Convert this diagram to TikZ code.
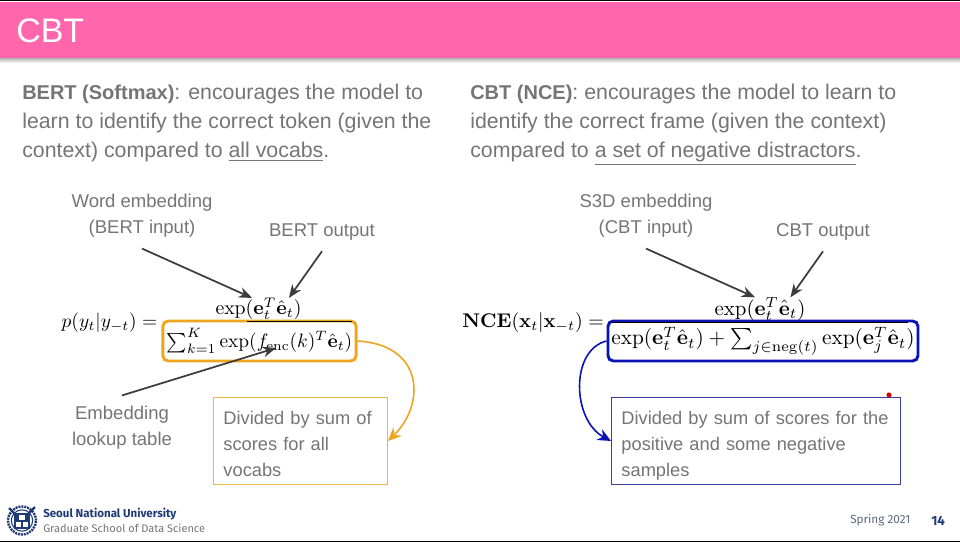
\documentclass[tikz,border=0pt]{standalone}
\usepackage[no-math]{fontspec}
\setmainfont{Liberation Sans}
\newfontfamily\footfont{Fira Sans}
\usetikzlibrary{arrows.meta}
\definecolor{headpink}{HTML}{FF66AC}
\definecolor{bodygray}{HTML}{757575}
\definecolor{arrowgray}{HTML}{3C3C3C}
\definecolor{softorange}{HTML}{EFA51E}
\definecolor{softblue}{HTML}{0A14B4}
\definecolor{snublue}{HTML}{1F3A75}
\definecolor{slategray}{HTML}{5C6B7E}
\newcommand{\formula}[2][1.47]{\scalebox{#1}{$#2$}}
\newcommand{\notegap}{\rule{0pt}{17.5pt}}
\newcommand{\notedrop}{\rule[-3.5pt]{0pt}{3.5pt}}
\newcommand{\leadin}[1]{{\fontsize{15}{21.75}\selectfont\bfseries #1}}
\tikzset{
    bodytext/.style={anchor=north west, align=left, inner sep=0pt, text=bodygray,
        font=\fontsize{16}{21.75}\selectfont},
    tagtext/.style={align=center, inner xsep=0pt, inner ysep=8pt, text=bodygray,
        font=\fontsize{13.9}{19.5}\selectfont},
    notebox/.style={draw, anchor=north west, align=left, inner xsep=7.5pt, inner ysep=0pt,
        text=bodygray, line width=0.7pt, minimum height=65.25pt,
        font=\fontsize{13.7}{19.5}\selectfont},
    denombox/.style={draw, line width=2.2pt, rounded corners=4pt, inner sep=0pt,
        minimum height=30pt},
    pointer/.style={-{Stealth[length=10pt,width=8pt]}, color=arrowgray, line width=1.3pt},
    bender/.style={-{Stealth[length=10pt,width=9pt]}, line width=1.2pt},
}
\begin{document}
\begin{tikzpicture}[x=0.75pt,y=-0.75pt]
\useasboundingbox (0,0) rectangle (960,542);
\fill[white] (0,0) rectangle (960,542);

% slide frame
\fill[top color=black!30, bottom color=white] (0,58) rectangle (960,63);
\fill[headpink] (0,2) rectangle (960,58);
\fill[black] (0,0) rectangle (960,1.5);
\fill[black] (0,540.5) rectangle (960,542);
\node[anchor=west, text=white, inner sep=0pt, font=\fontsize{25.5}{30}\selectfont] (title) at (16,31) {CBT};

% left column
\node[bodytext] (leftbody) at (22,84) {\leadin{BERT (Softmax)}: encourages the model to\\
    learn to identify the correct token (given the\\
    context) compared to \underline{all vocabs}.};
\node[tagtext] (wordtag) at (142,216) {Word embedding\\(BERT input)};
\node[tagtext] (outtag) at (322,232) {BERT output};
\node[tagtext] (looktag) at (122,428) {Embedding\\lookup table};
\node[inner sep=0pt] (lhsleft) at (109.5,323) {\formula[1.455]{p(y_t|y_{-t}) =}};
\node[inner sep=0pt] (numleft) at (258.5,309) {\formula[1.485]{\exp(\mathbf{e}_t^T\hat{\mathbf{e}}_t)}};
\node[denombox, draw=softorange, minimum width=145pt] (denomleft) at (259.5,341) {\formula[1.455]{\sum_{k=1}^{K}\exp(f_{\mathrm{enc}}(k)^T\hat{\mathbf{e}}_t)}};
\draw[black, line width=0.5pt] (247,321) -- (352,321);
\node[notebox, draw=softorange!80, text width=115.5pt, minimum width=130.5pt] (noteleft) at (213,397) {\notegap Divided by sum of\\scores for all\\vocabs\notedrop};
\coordinate (fenc) at (276,348);
\draw[pointer] (wordtag.south) -- (numleft.120);
\draw[pointer] (outtag.south) -- (numleft.20);
\draw[pointer] (looktag.north) -- (fenc);
\draw[bender, color=softorange] (denomleft.east) .. controls (425,345) and (425,405) .. (noteleft.east);

% right column
\node[bodytext] (rightbody) at (470,84) {\leadin{CBT (NCE)}: encourages the model to learn to\\
    identify the correct frame (given the context)\\
    compared to \underline{a set of negative distractors}.};
\node[tagtext] (s3dtag) at (646,216) {S3D embedding\\(CBT input)};
\node[tagtext] (cbttag) at (823,232) {CBT output};
\node[inner sep=0pt] (lhsright) at (533,323) {\formula[1.485]{\mathbf{NCE}(\mathbf{x}_t|\mathbf{x}_{-t}) =}};
\node[inner sep=0pt] (numright) at (760,309) {\formula[1.57]{\exp(\mathbf{e}_t^T\hat{\mathbf{e}}_t)}};
\node[denombox, draw=softblue, minimum width=232.5pt] (denomright) at (763,341) {\formula[1.6]{\exp(\mathbf{e}_t^T\hat{\mathbf{e}}_t)+\sum_{j\in\mathrm{neg}(t)}\exp(\mathbf{e}_j^T\hat{\mathbf{e}}_t)}};
\draw[black, line width=0.4pt] (612,322) -- (908,322);
\node[notebox, draw=softblue!60!gray, text width=201.75pt, minimum width=216.75pt] (noteright) at (611,397) {\notegap Divided by sum of scores for the\\positive and some negative\\samples\notedrop};
\draw[pointer] (s3dtag.south) -- (numright.113);
\draw[pointer] (cbttag.south) -- (numright.21);
\draw[bender, color=softblue] (denomright.west) .. controls (570,350) and (572,420) .. (noteright.west);
\node[circle, fill=red!85!black, inner sep=0pt, minimum size=3.8pt] (dot) at (889,395) {};

% footer
\node[circle, draw=snublue, line width=1.8pt, dash pattern=on 1.5pt off 0.7pt, minimum size=21pt, inner sep=0pt] (logo) at (22,520.5) {};
\node[circle, draw=snublue, line width=0.8pt, minimum size=16pt, inner sep=0pt] (logoin) at (22,520.5) {};
\draw[snublue, line width=1.6pt] (9,508) -- (17,516);
\draw[snublue, line width=1.6pt] (35,507) -- (27,515);
\fill[snublue] (14,513) rectangle (30,529);
\fill[white] (16,522) rectangle (21,527);
\fill[white] (23,522) rectangle (28,527);
\fill[white] (19,515) rectangle (25,520);
\node[anchor=west, inner sep=0pt, text=snublue, font=\footfont\bfseries\fontsize{8.65}{10}\selectfont] (univ) at (43,514) {Seoul National University};
\node[anchor=west, inner sep=0pt, text=bodygray, font=\footfont\fontsize{8.25}{10}\selectfont] (school) at (43,528) {Graduate School of Data Science};
\node[anchor=west, inner sep=0pt, text=slategray, font=\footfont\fontsize{8.8}{10}\selectfont] (term) at (850,520.5) {Spring 2021};
\node[anchor=west, inner sep=0pt, text=snublue, font=\footfont\bfseries\fontsize{10}{10}\selectfont] (page) at (931,520.5) {14};
\end{tikzpicture}
\end{document}
